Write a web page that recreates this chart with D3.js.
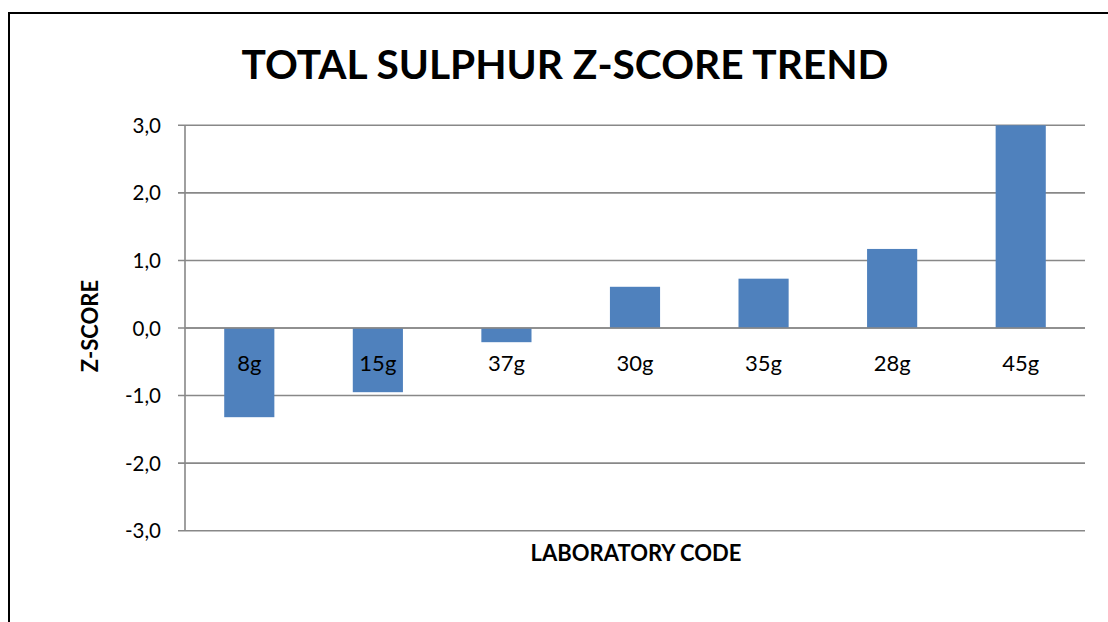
<!DOCTYPE html>
<html><head><meta charset="utf-8">
<script src="https://cdn.jsdelivr.net/npm/d3@7"></script>
<style>body{margin:0;background:#fff}svg{display:block}</style>
</head><body>
<svg id="c" width="1108" height="622"></svg>
<script>
const categories = ["8g","15g","37g","30g","35g","28g","45g"];
const zscores = [-1.32,-0.95,-0.21,0.61,0.73,1.17,3.0];
const yTicks = [-3,-2,-1,0,1,2,3];
const titleText = "TOTAL SULPHUR Z-SCORE TREND";
const xTitle = "LABORATORY CODE";
const yTitle = "Z-SCORE";

const svg = d3.select("#c");
const font = "Lato, 'Open Sans', sans-serif";
// outer frame
svg.append("path").attr("d","M9,640 V13 H1120").attr("fill","none").attr("stroke","#000").attr("stroke-width",2);

const m = {l:185, r:1085, t:125.3, b:530.7};
const x = d3.scaleBand().domain(categories).range([m.l,m.r]).paddingInner(0.61).paddingOuter(0.305);
const y = d3.scaleLinear().domain([-3,3]).range([m.b,m.t]);

// gridlines
svg.append("g").selectAll("line").data(yTicks).join("line")
  .attr("x1",178).attr("x2",m.r).attr("y1",d=>y(d)).attr("y2",d=>y(d))
  .attr("stroke","#888").attr("stroke-width",1.6);
// y axis line
svg.append("line").attr("x1",m.l).attr("x2",m.l).attr("y1",m.t).attr("y2",m.b).attr("stroke","#888").attr("stroke-width",1.6);

// bars
svg.append("g").selectAll("rect").data(zscores).join("rect")
  .attr("x",(d,i)=>x(categories[i])).attr("width",x.bandwidth())
  .attr("y",d=>y(Math.max(0,d))).attr("height",d=>Math.abs(y(d)-y(0)))
  .attr("fill","#4F81BD");
// zero line over bars
svg.append("line").attr("x1",m.l).attr("x2",m.r).attr("y1",y(0)).attr("y2",y(0)).attr("stroke","#888").attr("stroke-width",1.6);

// category labels
svg.append("g").selectAll("text").data(categories).join("text")
  .attr("x",d=>x(d)+x.bandwidth()/2).attr("y",y(0)+43)
  .attr("text-anchor","middle").attr("font-family",font).attr("font-size",22).attr("fill","#000")
  .text(d=>d);

// y tick labels
const fmt = d=>d.toFixed(1).replace(".",",");
svg.append("g").selectAll("text").data(yTicks).join("text")
  .attr("x",161).attr("y",d=>y(d)+7.5).attr("text-anchor","end")
  .attr("font-family",font).attr("font-size",20.5).attr("fill","#000").text(fmt);

// titles
svg.append("text").attr("x",565).attr("y",79).attr("text-anchor","middle")
  .attr("font-family",font).attr("font-weight","bold").attr("font-size",40.7).text(titleText);
svg.append("text").attr("x",636).attr("y",561).attr("text-anchor","middle")
  .attr("font-family",font).attr("font-weight","bold").attr("font-size",22).text(xTitle);
svg.append("text").attr("transform","translate(98,326) rotate(-90)").attr("text-anchor","middle")
  .attr("font-family",font).attr("font-weight","bold").attr("font-size",22).text(yTitle);
</script>
</body></html>
